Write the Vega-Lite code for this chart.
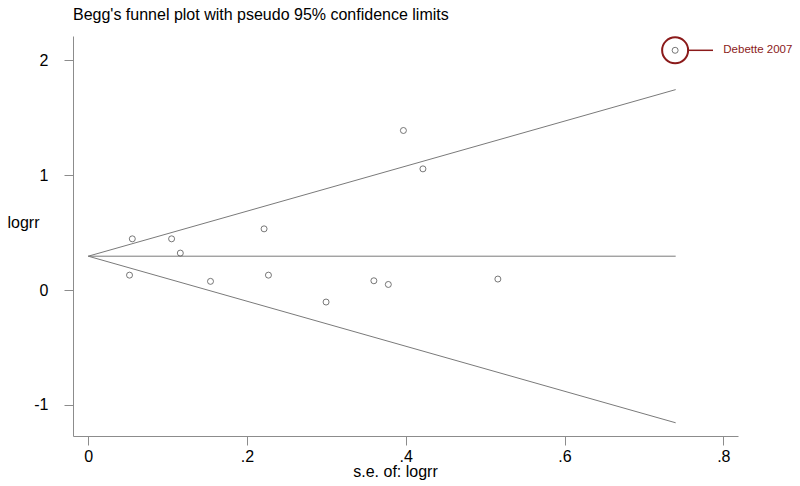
{
  "$schema": "https://vega.github.io/schema/vega-lite/v6.json",
  "width": 665,
  "height": 400,
  "autosize": {"type": "none"},
  "padding": {"left": 73, "top": 36, "right": 62, "bottom": 50},
  "background": "white",
  "title": {
    "text": "Begg's funnel plot with pseudo 95% confidence limits",
    "anchor": "start",
    "frame": "group",
    "font": "Liberation Sans",
    "fontSize": 16,
    "fontWeight": "normal",
    "color": "#000000",
    "offset": 10
  },
  "config": {
    "view": {"stroke": null},
    "axis": {
      "labelFont": "Liberation Sans",
      "titleFont": "Liberation Sans",
      "labelFontSize": 16,
      "titleFontSize": 16,
      "labelColor": "#000000",
      "titleColor": "#000000",
      "titleFontWeight": "normal",
      "domainColor": "#8c8c8c",
      "tickColor": "#8c8c8c",
      "domainWidth": 1,
      "tickWidth": 1,
      "tickSize": 9,
      "grid": false
    }
  },
  "datasets": {
    "funnel": [
      {"line": "upper", "se": 0, "logrr": 0.295},
      {"line": "upper", "se": 0.74, "logrr": 1.745},
      {"line": "lower", "se": 0, "logrr": 0.295},
      {"line": "lower", "se": 0.74, "logrr": -1.155},
      {"line": "center", "se": 0, "logrr": 0.295},
      {"line": "center", "se": 0.74, "logrr": 0.295}
    ],
    "studies": [
      {"se": 0.0555, "logrr": 0.446},
      {"se": 0.105, "logrr": 0.446},
      {"se": 0.116, "logrr": 0.322},
      {"se": 0.052, "logrr": 0.130},
      {"se": 0.154, "logrr": 0.076},
      {"se": 0.2215, "logrr": 0.533},
      {"se": 0.227, "logrr": 0.130},
      {"se": 0.397, "logrr": 1.389},
      {"se": 0.4216, "logrr": 1.055},
      {"se": 0.2996, "logrr": -0.104},
      {"se": 0.3598, "logrr": 0.081},
      {"se": 0.378, "logrr": 0.049},
      {"se": 0.516, "logrr": 0.096},
      {"se": 0.7393, "logrr": 2.087}
    ],
    "annotation": [
      {"se": 0.7393, "logrr": 2.087, "lineStart": 0.7552, "lineEnd": 0.787, "textPos": 0.8, "label": "Debette 2007"}
    ]
  },
  "encoding": {
    "x": {
      "field": "se",
      "type": "quantitative",
      "scale": {"domain": [-0.0192, 0.8185], "nice": false, "zero": false},
      "axis": {
        "values": [0, 0.2, 0.4, 0.6, 0.8],
        "labelExpr": "datum.value == 0 ? '0' : replace(format(datum.value, '.1f'), '0.', '.')",
        "labelPadding": 3,
        "title": "s.e. of: logrr",
        "titleX": 322,
        "titleY": 35,
        "titleAlign": "center",
        "titleBaseline": "middle"
      }
    },
    "y": {
      "field": "logrr",
      "type": "quantitative",
      "scale": {"domain": [-1.27, 2.2115], "nice": false, "zero": false},
      "axis": {
        "values": [-1, 0, 1, 2],
        "labelExpr": "datum.value + ''",
        "labelPadding": 16,
        "title": "logrr",
        "titleAngle": 0,
        "titleX": -66,
        "titleY": 186,
        "titleAlign": "left",
        "titleBaseline": "middle"
      }
    }
  },
  "layer": [
    {
      "data": {"name": "funnel"},
      "mark": {"type": "line", "color": "#7a7a7a", "strokeWidth": 1},
      "encoding": {"detail": {"field": "line", "type": "nominal"}}
    },
    {
      "data": {"name": "studies"},
      "mark": {"type": "point", "shape": "circle", "filled": false, "size": 36, "color": "#555555", "strokeWidth": 0.8, "opacity": 1}
    },
    {
      "data": {"name": "annotation"},
      "mark": {"type": "point", "shape": "circle", "filled": false, "size": 676, "color": "#8b1a1a", "strokeWidth": 2, "opacity": 1}
    },
    {
      "data": {"name": "annotation"},
      "mark": {"type": "rule", "color": "#8b1a1a", "strokeWidth": 1.5},
      "encoding": {
        "x": {"field": "lineStart", "type": "quantitative"},
        "x2": {"field": "lineEnd"}
      }
    },
    {
      "data": {"name": "annotation"},
      "mark": {"type": "text", "align": "left", "baseline": "middle", "font": "Liberation Sans", "fontSize": 11.5, "color": "#8b1a1a"},
      "encoding": {
        "x": {"field": "textPos", "type": "quantitative"},
        "text": {"field": "label"}
      }
    }
  ]
}
